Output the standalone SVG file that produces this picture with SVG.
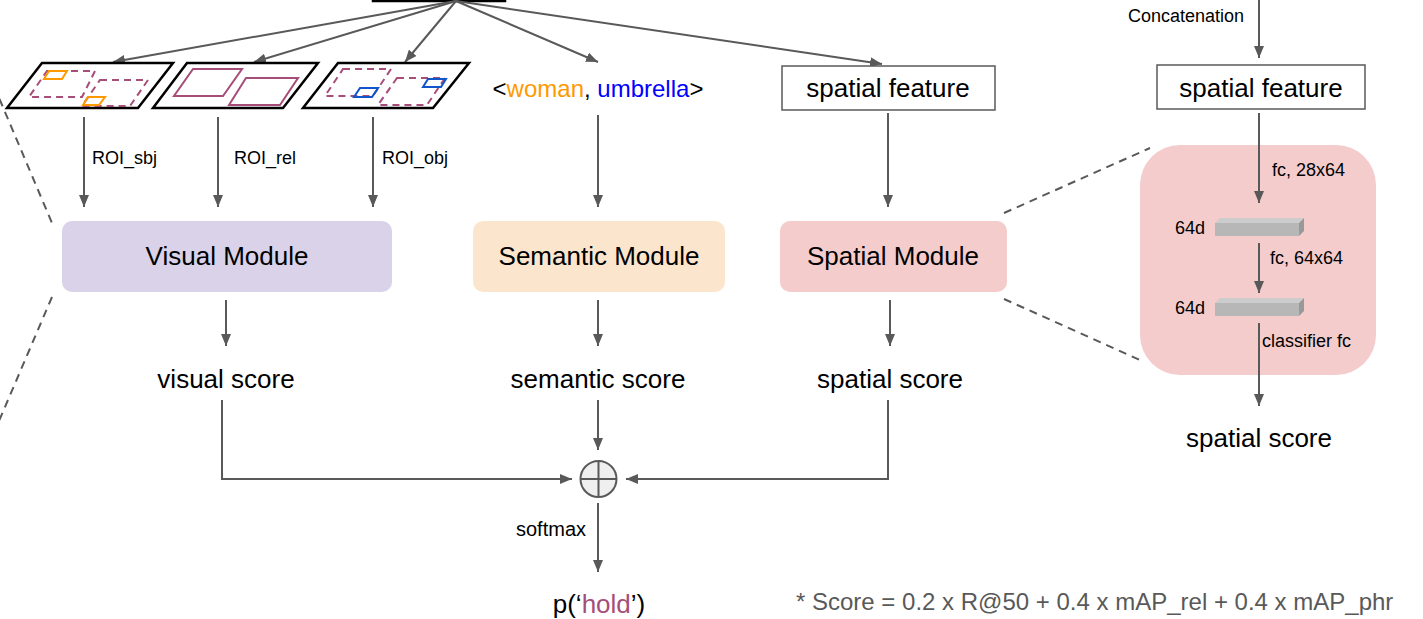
<svg xmlns="http://www.w3.org/2000/svg" width="1423" height="619" viewBox="0 0 1423 619">
  <style>
    text { font-family: "Liberation Sans", Arial, sans-serif; fill: #000; }
    .big { font-size: 26px; }
    .small { font-size: 18px; }
    .mid { text-anchor: middle; }
    .conn { stroke: #595959; stroke-width: 2; fill: none; }
    .lead { stroke: #595959; stroke-width: 2; fill: none; stroke-dasharray: 8 6; }
    .frame { stroke: #000; stroke-width: 2.5; fill: #fff; stroke-linejoin: miter; }
    .roi { stroke: #a64d79; stroke-width: 2; fill: none; }
    .roid { stroke: #a64d79; stroke-width: 2; fill: none; stroke-dasharray: 7 5; }
    .box { stroke: #595959; stroke-width: 1.5; fill: #fff; }
  </style>
  <defs>
    <marker id="arrow" markerUnits="userSpaceOnUse" markerWidth="12" markerHeight="10" refX="12" refY="5" orient="auto">
      <path d="M0,0 L12,5 L0,10 z" fill="#595959"/>
    </marker>
  </defs>

  <!-- image source box at the top edge -->
  <g id="source">
    <rect x="373" y="-20" width="132" height="21" fill="#fff" stroke="#000" stroke-width="2.5"/>
  </g>

  <!-- zoom guides -->
  <g id="guides">
    <line class="lead" x1="-6" y1="86" x2="52" y2="223"/>
    <line class="lead" x1="52" y1="297" x2="-4" y2="428"/>
    <line class="lead" x1="1004" y1="213" x2="1150" y2="148"/>
    <line class="lead" x1="1004" y1="299" x2="1140" y2="360"/>
  </g>

  <!-- right detail panel background -->
  <g id="spatial-detail">
    <rect x="1140" y="145" width="236" height="230" rx="40" fill="#f4cccc"/>
  </g>

  <g id="connectors">
    <!-- fan-out from the source -->
    <line class="conn" x1="456" y1="1" x2="113" y2="62" marker-end="url(#arrow)"/>
    <line class="conn" x1="456" y1="1" x2="254" y2="62" marker-end="url(#arrow)"/>
    <line class="conn" x1="456" y1="1" x2="405" y2="62" marker-end="url(#arrow)"/>
    <line class="conn" x1="456" y1="1" x2="598" y2="62" marker-end="url(#arrow)"/>
    <line class="conn" x1="456" y1="1" x2="882" y2="64" marker-end="url(#arrow)"/>
    <!-- ROI inputs -->
    <line class="conn" x1="84" y1="117" x2="84" y2="207" marker-end="url(#arrow)"/>
    <line class="conn" x1="218" y1="117" x2="218" y2="207" marker-end="url(#arrow)"/>
    <line class="conn" x1="373" y1="117" x2="373" y2="207" marker-end="url(#arrow)"/>
    <line class="conn" x1="598" y1="115" x2="598" y2="207" marker-end="url(#arrow)"/>
    <line class="conn" x1="888" y1="113" x2="888" y2="207" marker-end="url(#arrow)"/>
    <!-- module outputs -->
    <line class="conn" x1="226" y1="300" x2="226" y2="346" marker-end="url(#arrow)"/>
    <line class="conn" x1="598" y1="300" x2="598" y2="346" marker-end="url(#arrow)"/>
    <line class="conn" x1="890" y1="300" x2="890" y2="346" marker-end="url(#arrow)"/>
    <!-- fusion -->
    <polyline class="conn" points="222,400 222,479 572,479" marker-end="url(#arrow)"/>
    <line class="conn" x1="598" y1="400" x2="598" y2="450" marker-end="url(#arrow)"/>
    <polyline class="conn" points="888,400 888,479 626,479" marker-end="url(#arrow)"/>
    <line class="conn" x1="598" y1="503" x2="598" y2="572" marker-end="url(#arrow)"/>
    <!-- detail column -->
    <line class="conn" x1="1259" y1="0" x2="1259" y2="58" marker-end="url(#arrow)"/>
    <line class="conn" x1="1259" y1="113" x2="1259" y2="203" marker-end="url(#arrow)"/>
    <line class="conn" x1="1259" y1="243" x2="1259" y2="293" marker-end="url(#arrow)"/>
    <line class="conn" x1="1259" y1="323" x2="1259" y2="406" marker-end="url(#arrow)"/>
  </g>

  <!-- ROI frames -->
  <g id="roi-sbj">
    <polygon class="frame" points="42,63 173,63 138,108 7,108"/>
    <polygon class="roid" points="47,71 95,71 82,97 29,97"/>
    <polygon class="roid" points="100,80 148,80 130,106 82,106"/>
    <polygon fill="none" stroke="#ff9900" stroke-width="2" points="49,71 67,71 62,79 44,79"/>
    <polygon fill="none" stroke="#ff9900" stroke-width="2" points="88,97 105,97 99,105 83,105"/>
  </g>
  <g id="roi-rel">
    <polygon class="frame" points="187,63 318,63 283,108 153,108"/>
    <polygon class="roi" points="193,69 242,69 223,96 174,96"/>
    <polygon class="roi" points="246,78 298,78 280,105 229,105"/>
  </g>
  <g id="roi-obj">
    <polygon class="frame" points="338,63 469,63 433,108 303,108"/>
    <polygon class="roid" points="343,69 391,69 373,96 325,96"/>
    <polygon class="roid" points="397,78 445,78 427,105 378,105"/>
    <polygon fill="none" stroke="#1155cc" stroke-width="2" points="360,88 378,88 372,97 354,97"/>
    <polygon fill="none" stroke="#1155cc" stroke-width="2" points="428,79 446,79 441,87 423,87"/>
  </g>

  <!-- edge labels -->
  <g id="roi-labels">
    <text class="small" x="92" y="164">ROI_sbj</text>
    <text class="small" x="234" y="164">ROI_rel</text>
    <text class="small" x="382" y="164">ROI_obj</text>
  </g>

  <g id="phrase">
    <text class="mid" x="598" y="97" font-size="24">&lt;<tspan fill="#ff9900">woman</tspan>, <tspan fill="#0000ff">umbrella</tspan>&gt;</text>
  </g>

  <g id="spatial-feature">
    <rect class="box" x="782" y="66" width="213" height="44"/>
    <text class="big mid" x="888" y="97">spatial feature</text>
  </g>

  <g id="visual-module">
    <rect x="62" y="221" width="330" height="71" rx="10" fill="#d9d2e9"/>
    <text class="big mid" x="227" y="265">Visual Module</text>
  </g>
  <g id="semantic-module">
    <rect x="473" y="221" width="252" height="71" rx="10" fill="#fce5cd"/>
    <text class="big mid" x="599" y="265">Semantic Module</text>
  </g>
  <g id="spatial-module">
    <rect x="780" y="221" width="227" height="71" rx="10" fill="#f4cccc"/>
    <text class="big mid" x="893" y="265">Spatial Module</text>
  </g>

  <g id="scores">
    <text class="big mid" x="226" y="388">visual score</text>
    <text class="big mid" x="598" y="388">semantic score</text>
    <text class="big mid" x="890" y="388">spatial score</text>
  </g>

  <g id="fusion">
    <circle cx="598.5" cy="479" r="18" fill="#efefef" stroke="#595959" stroke-width="2"/>
    <line x1="580.5" y1="479" x2="616.5" y2="479" stroke="#595959" stroke-width="2"/>
    <line x1="598.5" y1="461" x2="598.5" y2="497" stroke="#595959" stroke-width="2"/>
    <text x="516" y="536" font-size="20">softmax</text>
  </g>

  <g id="prediction">
    <text class="big mid" x="599" y="613">p(‘<tspan fill="#a64d79">hold</tspan>’)</text>
  </g>

  <g id="footnote">
    <text x="796" y="610" font-size="24" fill="#595959" style="fill:#595959">* Score = 0.2 x R@50 + 0.4 x mAP_rel + 0.4 x mAP_phr</text>
  </g>

  <!-- detail column -->
  <g id="concat-label">
    <text class="small" x="1128" y="22">Concatenation</text>
  </g>
  <g id="spatial-feature-detail">
    <rect class="box" x="1157" y="65" width="208" height="44"/>
    <text class="big mid" x="1261" y="97">spatial feature</text>
  </g>
  <g id="fc-layers">
    <text class="small" x="1272" y="176">fc, 28x64</text>
    <polygon points="1215,223 1220,218 1304,218 1299,223" fill="#cccccc"/>
    <polygon points="1299,223 1304,218 1304,231 1299,236" fill="#999999"/>
    <rect x="1215" y="223" width="84" height="13" fill="#b7b7b7"/>
    <text class="small" x="1175" y="234">64d</text>
    <text class="small" x="1270" y="264">fc, 64x64</text>
    <polygon points="1215,303 1220,298 1304,298 1299,303" fill="#cccccc"/>
    <polygon points="1299,303 1304,298 1304,311 1299,316" fill="#999999"/>
    <rect x="1215" y="303" width="84" height="13" fill="#b7b7b7"/>
    <text class="small" x="1175" y="314">64d</text>
    <text class="small" x="1262" y="347">classifier fc</text>
  </g>
  <g id="spatial-score-detail">
    <text class="big mid" x="1259" y="447">spatial score</text>
  </g>
</svg>
